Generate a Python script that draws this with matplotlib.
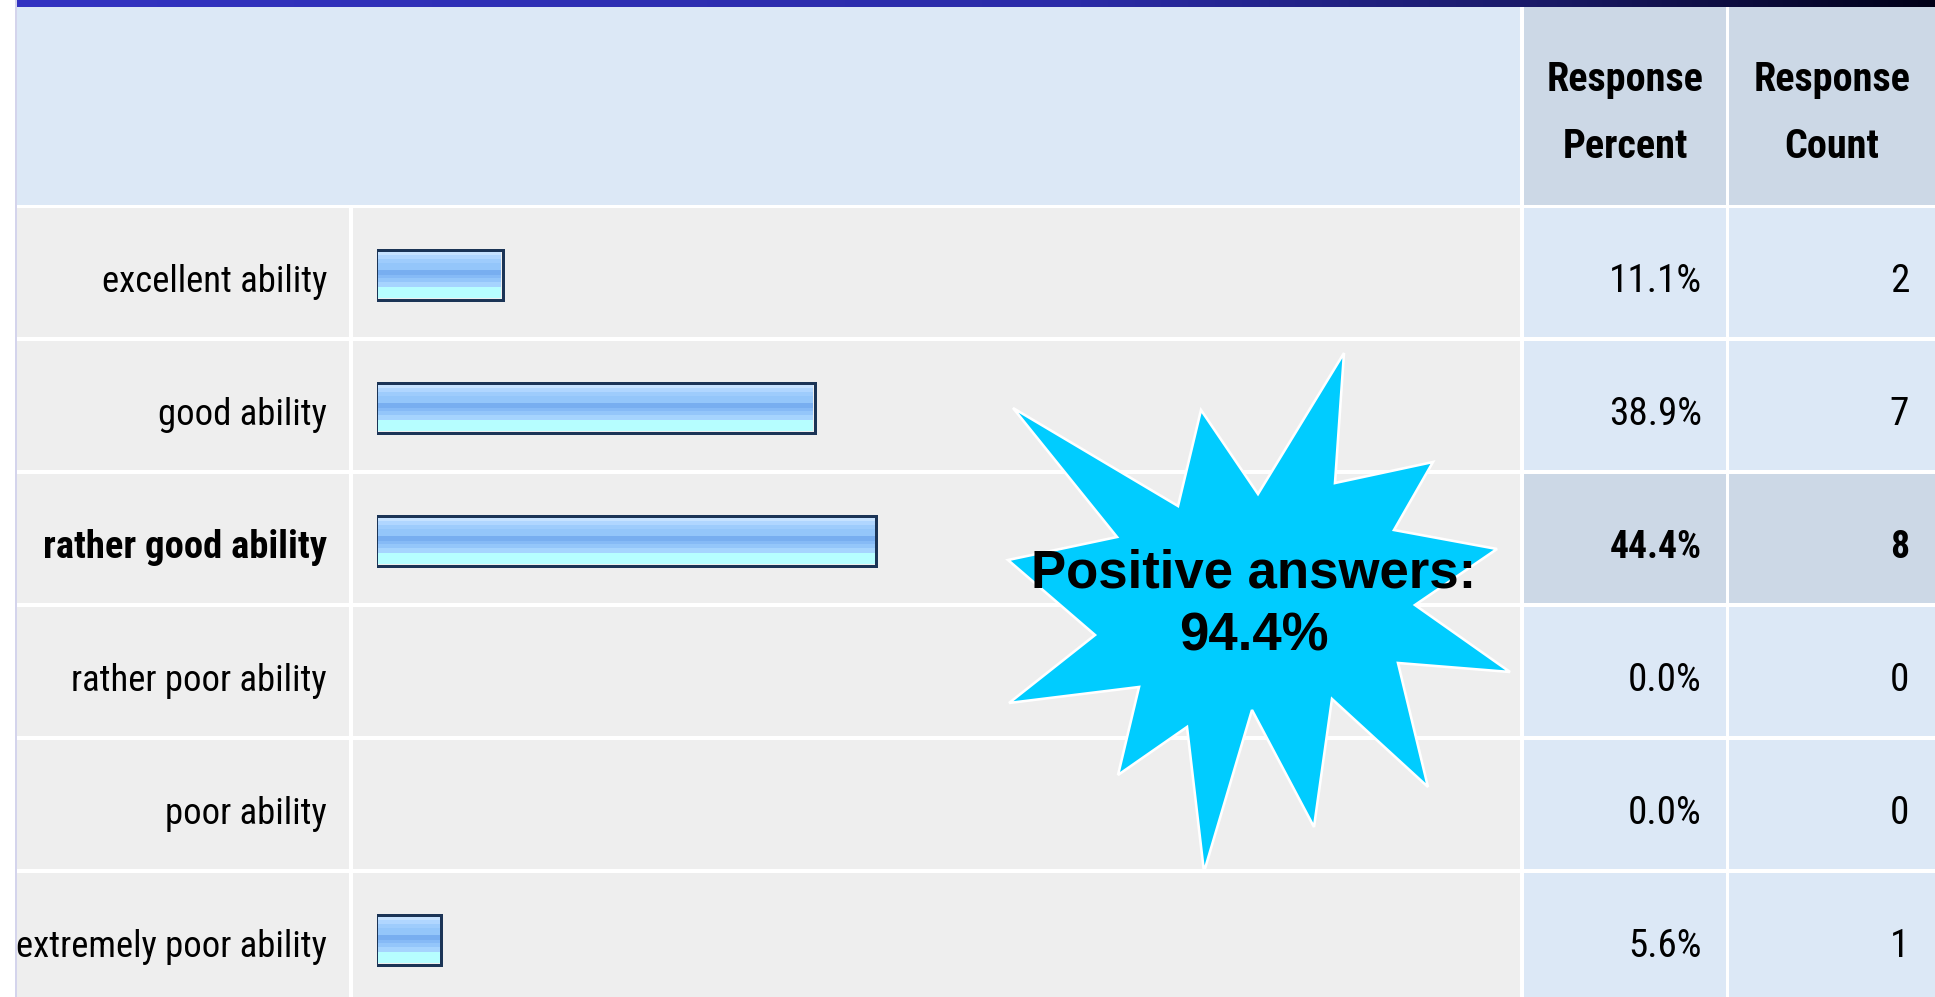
import numpy as np
import matplotlib
matplotlib.use("Agg")
import matplotlib.pyplot as plt
from matplotlib import font_manager as fm
from matplotlib.font_manager import FontProperties
from matplotlib.patches import Rectangle, Polygon
from matplotlib.textpath import TextPath

# ---------------- data ----------------
categories = ["excellent ability", "good ability", "rather good ability",
              "rather poor ability", "poor ability", "extremely poor ability"]
percent = [11.1, 38.9, 44.4, 0.0, 0.0, 5.6]
counts = [2, 7, 8, 0, 0, 1]
percent_labels = ["11.1%", "38.9%", "44.4%", "0.0%", "0.0%", "5.6%"]
highlight_row = 2
header_cols = ["Response\nPercent", "Response\nCount"]
callout_lines = ["Positive answers:", "94.4%"]

# starburst outline (figure pixels, from top-left)
star_pts = [(1013, 408), (1178, 506), (1201, 410), (1258, 494), (1344, 353),
            (1335, 483), (1433, 462), (1394, 530), (1497, 549), (1415, 605),
            (1510, 672), (1398, 663), (1428, 787), (1332, 699), (1314, 827),
            (1252, 710), (1204, 872), (1187, 727), (1118, 775), (1139, 687),
            (1009, 703), (1095, 635), (1008, 560), (1117, 537)]

# ---------------- fonts ----------------
def _num(v, d, default):
    if isinstance(v, str):
        return d.get(v, default)
    return v

def _ratio(fname):
    try:
        fp = FontProperties(fname=fname)
        w = TextPath((0, 0), "excellent ability", size=100, prop=fp).get_extents().width
        h = TextPath((0, 0), "l", size=100, prop=fp).get_extents().height
        return w / h
    except Exception:
        return None

def pick_condensed(target=6.6):
    entries = fm.fontManager.ttflist
    ok_names = ("Liberation Sans Narrow", "Liberation Sans", "DejaVu Sans", "Roboto",
                "Roboto Condensed", "Open Sans", "Open Sans Condensed", "Noto Sans",
                "Lato", "Inter")
    best = None
    for e in entries:
        if e.name not in ok_names or e.style != "normal":
            continue
        wt = _num(e.weight, fm.weight_dict, 400)
        if wt < 350 or wt > 500:
            continue
        st = _num(e.stretch, fm.stretch_dict, 500)
        bolds = [b for b in entries if b.name == e.name and b.style == "normal"
                 and _num(b.stretch, fm.stretch_dict, 500) == st
                 and 600 <= _num(b.weight, fm.weight_dict, 400) <= 800]
        if not bolds:
            continue
        r = _ratio(e.fname)
        if r is None:
            continue
        score = abs(r - target)
        if best is None or score < best[0]:
            bolds.sort(key=lambda b: abs(_num(b.weight, fm.weight_dict, 400) - 700))
            best = (score, e.fname, bolds[0].fname)
    if best is None:
        return (FontProperties(family="Liberation Sans"),
                FontProperties(family="Liberation Sans", weight="bold"))
    return FontProperties(fname=best[1]), FontProperties(fname=best[2])

fp_reg, fp_bold = pick_condensed()
fp_call = FontProperties(family="Liberation Sans", weight="bold")

# ---------------- figure ----------------
W, H = 1935, 997
fig = plt.figure(figsize=(W / 100, H / 100), dpi=100)
fig.patch.set_facecolor("white")
bg = fig.add_axes([0, 0, 1, 1])
bg.set_xlim(0, W)
bg.set_ylim(H, 0)
bg.axis("off")

renderer = fig.canvas.get_renderer()

def fit_size(text, fp, target_px, base=40):
    t = bg.text(0, 0, text, fontproperties=fp, fontsize=base)
    w = t.get_window_extent(renderer).width
    t.remove()
    return base * target_px / w

size_label = fit_size("excellent ability", fp_reg, 225)
size_label_b = fit_size("rather good ability", fp_bold, 283)
size_value = fit_size("11.1%", fp_reg, 93)
size_value_b = fit_size("44.4%", fp_bold, 92)
size_head = fit_size("Response", fp_bold, 157)
size_call = fit_size(callout_lines[0], fp_call, 445)

# layout in pixels
left = 17
top_bar_h = 7
header_bottom = 205
row_top0 = 208
row_pitch = 133
row_h = 129
col_label = (17, 349)
col_bar = (353, 1520)
col_pct = (1524, 1726)
col_cnt = (1729, W)

c_header = "#DCE8F6"
c_header_dark = "#CCD8E6"
c_cell = "#EEEEEE"
c_val = "#DCE8F6"
c_val_hi = "#CCD8E6"

# top gradient bar
grad_cols = np.array([[0.20, 0.20, 0.76], [0.17, 0.17, 0.66], [0.10, 0.10, 0.40], [0.0, 0.0, 0.09]])
stops = np.array([0.0, 0.55, 0.8, 1.0])
xs = np.linspace(0, 1, 400)
grad = np.stack([np.interp(xs, stops, grad_cols[:, k]) for k in range(3)], axis=-1)[None, :, :]
bg.imshow(grad, extent=(left, W, top_bar_h, 0), aspect="auto", interpolation="bilinear", zorder=1)
bg.set_xlim(0, W)
bg.set_ylim(H, 0)

# faint left border
bg.add_patch(Rectangle((left - 2, 0), 2, H, facecolor="#D4D4EC", edgecolor="none", zorder=1))

# header cells
bg.add_patch(Rectangle((col_label[0], top_bar_h), col_bar[1] - col_label[0], header_bottom - top_bar_h,
                       facecolor=c_header, edgecolor="none", zorder=1))
for (x0, x1) in (col_pct, col_cnt):
    bg.add_patch(Rectangle((x0, top_bar_h), x1 - x0, header_bottom - top_bar_h,
                           facecolor=c_header_dark, edgecolor="none", zorder=1))

# header text
for (x0, x1), txt in zip((col_pct, col_cnt), header_cols):
    l1, l2 = txt.split("\n")
    cx = (x0 + x1) / 2
    bg.text(cx, 91, l1, ha="center", va="baseline", fontproperties=fp_bold, fontsize=size_head, zorder=5)
    bg.text(cx, 158, l2, ha="center", va="baseline", fontproperties=fp_bold, fontsize=size_head, zorder=5)

# rows
for i, cat in enumerate(categories):
    y0 = row_top0 + i * row_pitch
    hi = (i == highlight_row)
    cell = None
    for (x0, x1) in (col_label, col_bar):
        r = Rectangle((x0, y0), x1 - x0, row_h, facecolor=c_cell, edgecolor="none", zorder=1)
        bg.add_patch(r)
        if cell is None:
            cell = r
    for (x0, x1) in (col_pct, col_cnt):
        bg.add_patch(Rectangle((x0, y0), x1 - x0, row_h, facecolor=c_val_hi if hi else c_val,
                               edgecolor="none", zorder=1))
    base = y0 + row_h / 2 + 19
    fp = fp_bold if hi else fp_reg
    t = bg.text(327, base, cat, ha="right", va="baseline", fontproperties=fp,
                fontsize=size_label_b if hi else size_label, zorder=5)
    t.set_clip_path(cell)
    vs = size_value_b if hi else size_value
    bg.text(1702, base, percent_labels[i], ha="right", va="baseline", fontproperties=fp,
            fontsize=vs, zorder=5)
    bg.text(1909, base, str(counts[i]), ha="right", va="baseline", fontproperties=fp,
            fontsize=vs, zorder=5)

# bar axes: 0..100 % mapped onto pixels 377..1498
bx0, bx1 = 377, 1498
by_top = row_top0
by_bot = row_top0 + len(categories) * row_pitch
bar_ax = fig.add_axes([bx0 / W, (H - by_bot) / H, (bx1 - bx0) / W, (by_bot - by_top) / H])
bar_ax.set_xlim(0, 100)
bar_ax.set_ylim(len(categories) - 0.5, -0.5)
bar_ax.axis("off")
bar_ax.patch.set_alpha(0)
bar_ax.set_zorder(2)

inner_h = 47 / row_pitch
stripes = [(0, 4, "#C6E2FF"), (4, 8, "#B0D6FF"), (8, 12, "#9ECCFC"), (12, 19, "#94C6FA"),
           (19, 24, "#78AEF0"), (24, 27, "#86BAF6"), (27, 31, "#94C6FA"), (31, 36, "#A6D4FE"),
           (36, 47, "#B6FEFF")]
px_x = 100 / (bx1 - bx0)
for i, v in enumerate(percent):
    if v <= 0:
        continue
    for a, b, c in stripes:
        mid = (a + b) / 2 / 47
        bar_ax.barh(i - inner_h / 2 + mid * inner_h, v, height=(b - a) / 47 * inner_h,
                    left=0, color=c, linewidth=0)
    bar_ax.barh(i, v + 3 * px_x, height=inner_h + 3 / row_pitch, left=-1.5 * px_x,
                fill=False, edgecolor="#1B3456", linewidth=3 * 0.72)

# starburst callout on top
ov = fig.add_axes([0, 0, 1, 1])
ov.set_xlim(0, W)
ov.set_ylim(H, 0)
ov.axis("off")
ov.patch.set_alpha(0)
ov.set_zorder(3)
ov.add_patch(Polygon(star_pts, closed=True, facecolor="#00CCFF", edgecolor="white",
                     linewidth=2.6 * 0.72, joinstyle="miter"))
ov.text(1254, 587, callout_lines[0], ha="center", va="baseline", fontproperties=fp_call,
        fontsize=size_call, color="black")
ov.text(1254, 650, callout_lines[1], ha="center", va="baseline", fontproperties=fp_call,
        fontsize=size_call, color="black")

fig.savefig("out.png", dpi=100, facecolor="white")
